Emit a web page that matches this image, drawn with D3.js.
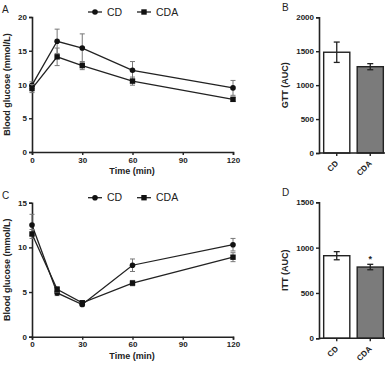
<!DOCTYPE html>
<html>
<head>
<meta charset="utf-8">
<script src="https://cdn.jsdelivr.net/npm/d3@7"></script>
<style>
  body { margin: 0; background: #fff; }
  text { font-family: "Liberation Sans", Arial, sans-serif; fill: #222; }
</style>
</head>
<body>
<div id="svg"></div>
<script>
// time points (min)
const times = [0, 15, 30, 60, 120]

// GTT curves (mean, SEM)
const gttCD = [9.9, 16.4, 15.4, 12.1, 9.5]
const gttCDerr = [0.5, 1.8, 2.1, 1.3, 1.1]
const gttCDA = [9.4, 14.1, 12.8, 10.5, 7.8]
const gttCDAerr = [0.6, 1.3, 0.6, 0.6, 0.3]

// ITT curves
const ittCD = [12.5, 4.9, 3.6, 8.0, 10.3]
const ittCDerr = [1.2, 0.3, 0.2, 0.7, 0.7]
const ittCDA = [11.5, 5.3, 3.8, 6.0, 8.9]
const ittCDAerr = [0.5, 0.3, 0.2, 0.3, 0.5]

// AUC bars
const groups = ["CD", "CDA"]
const gttAUC = [1485, 1272]
const gttAUCerr = [150, 45]
const ittAUC = [911, 786]
const ittAUCerr = [45, 30]

const width = 392
const height = 368
const ink = "#222"

const svg = d3.select("#svg")
    .append("svg")
    .attr("width", width)
    .attr("height", height)

function lineChart(o) {
    const g = svg.append("g")
    const x = d3.scaleLinear().domain([0, 120]).range([32, 233])
    const y = d3.scaleLinear().domain([0, o.ymax]).range([o.y0, o.y1])

    const xAxis = g.append("g")
        .attr("transform", `translate(0,${o.y0})`)
        .call(d3.axisBottom(x).tickValues([0, 30, 60, 90, 120]).tickSize(3).tickPadding(2))
    const yAxis = g.append("g")
        .attr("transform", `translate(32,0)`)
        .call(d3.axisLeft(y).ticks(o.ymax / 5).tickSize(3).tickPadding(2))
    ;[xAxis, yAxis].forEach(a => {
        a.select(".domain").attr("stroke", ink).attr("stroke-width", 1.6)
        a.selectAll(".tick line").attr("stroke", ink).attr("stroke-width", 1.4)
        a.selectAll(".tick text").attr("font-size", 8).attr("font-weight", "bold")
            .style("font-family", "Liberation Sans, Arial").attr("fill", ink)
    })

    g.append("text")
        .attr("x", 132).attr("y", o.y0 + 22)
        .attr("text-anchor", "middle").attr("font-size", 9).attr("font-weight", "bold")
        .text("Time (min)")
    g.append("text")
        .attr("transform", `translate(10,${(o.y0 + o.y1) / 2}) rotate(-90)`)
        .attr("text-anchor", "middle").attr("font-size", 9).attr("font-weight", "bold")
        .text("Blood glucose (mmol/L)")
    g.append("text")
        .attr("x", 2).attr("y", o.y1 - 4)
        .attr("font-size", 10)
        .text(o.letter)

    const line = d3.line().x((d, i) => x(times[i])).y(d => y(d))
    const series = [
        { vals: o.cd, err: o.cdErr, shape: "circle" },
        { vals: o.cda, err: o.cdaErr, shape: "square" }
    ]
    series.forEach(s => {
        // error bars
        const eb = g.append("g").attr("stroke", "#777").attr("stroke-width", 1)
        s.vals.forEach((v, i) => {
            const cx = x(times[i])
            eb.append("line").attr("x1", cx).attr("x2", cx).attr("y1", y(v - s.err[i])).attr("y2", y(v + s.err[i]))
            eb.append("line").attr("x1", cx - 2.5).attr("x2", cx + 2.5).attr("y1", y(v + s.err[i])).attr("y2", y(v + s.err[i]))
            eb.append("line").attr("x1", cx - 2.5).attr("x2", cx + 2.5).attr("y1", y(v - s.err[i])).attr("y2", y(v - s.err[i]))
        })
        g.append("path")
            .datum(s.vals)
            .attr("d", line)
            .attr("fill", "none")
            .attr("stroke", ink)
            .attr("stroke-width", 1.3)
        s.vals.forEach((v, i) => {
            if (s.shape == "circle") {
                g.append("circle").attr("cx", x(times[i])).attr("cy", y(v)).attr("r", 2.8).attr("fill", "#111")
            } else {
                g.append("rect").attr("x", x(times[i]) - 2.7).attr("y", y(v) - 2.7)
                    .attr("width", 5.4).attr("height", 5.4).attr("fill", "#111")
            }
        })
    })

    // legend
    const ly = o.y1 - 5
    const lg = g.append("g")
    lg.append("line").attr("x1", 88).attr("x2", 102).attr("y1", ly).attr("y2", ly).attr("stroke", ink).attr("stroke-width", 1.3)
    lg.append("circle").attr("cx", 95).attr("cy", ly).attr("r", 2.8).attr("fill", "#111")
    lg.append("text").attr("x", 107).attr("y", ly + 3.7).attr("font-size", 10.5).text("CD")
    lg.append("line").attr("x1", 137).attr("x2", 151).attr("y1", ly).attr("y2", ly).attr("stroke", ink).attr("stroke-width", 1.3)
    lg.append("rect").attr("x", 141.3).attr("y", ly - 2.7).attr("width", 5.4).attr("height", 5.4).attr("fill", "#111")
    lg.append("text").attr("x", 156).attr("y", ly + 3.7).attr("font-size", 10.5).text("CDA")
}

function barChart(o) {
    const g = svg.append("g")
    const x = d3.scaleBand().domain(groups).range([322, 385]).paddingInner(0.22).paddingOuter(0.05)
    const y = d3.scaleLinear().domain([0, o.ymax]).range([o.y0, o.y1])

    const fills = ["#fff", "#7b7b7b"]
    g.selectAll("rect.bar")
        .data(o.vals)
        .join("rect")
        .attr("class", "bar")
        .attr("x", (d, i) => x(groups[i]))
        .attr("width", x.bandwidth())
        .attr("y", d => y(d))
        .attr("height", d => o.y0 - y(d))
        .attr("fill", (d, i) => fills[i])
        .attr("stroke", ink)
        .attr("stroke-width", 1.4)

    o.vals.forEach((v, i) => {
        const cx = x(groups[i]) + x.bandwidth() / 2
        const e = o.err[i]
        const eb = g.append("g").attr("stroke", ink).attr("stroke-width", 1.3)
        eb.append("line").attr("x1", cx).attr("x2", cx).attr("y1", y(v - e)).attr("y2", y(v + e))
        eb.append("line").attr("x1", cx - 3).attr("x2", cx + 3).attr("y1", y(v + e)).attr("y2", y(v + e))
        eb.append("line").attr("x1", cx - 3).attr("x2", cx + 3).attr("y1", y(v - e)).attr("y2", y(v - e))
    })

    const yAxis = g.append("g")
        .attr("transform", `translate(319,0)`)
        .call(d3.axisLeft(y).tickValues(o.ticks).tickFormat(d3.format("d")).tickSize(3).tickPadding(2))
    const xAxis = g.append("g")
        .attr("transform", `translate(0,${o.y0})`)
        .call(d3.axisBottom(x).tickSize(3).tickSizeOuter(0))
    xAxis.select(".domain").attr("d", `M319,0H385`)
    ;[xAxis, yAxis].forEach(a => {
        a.select(".domain").attr("stroke", ink).attr("stroke-width", 1.6)
        a.selectAll(".tick line").attr("stroke", ink).attr("stroke-width", 1.4)
        a.selectAll(".tick text").attr("font-size", 8).attr("font-weight", "bold")
            .style("font-family", "Liberation Sans, Arial").attr("fill", ink)
    })
    xAxis.selectAll(".tick text")
        .attr("text-anchor", "end")
        .attr("y", 0)
        .attr("dy", 0)
        .attr("transform", "translate(2,11) rotate(-45)")

    g.append("text")
        .attr("transform", `translate(288,${(o.y0 + o.y1) / 2}) rotate(-90)`)
        .attr("text-anchor", "middle").attr("font-size", 9).attr("font-weight", "bold")
        .text(o.label)
    g.append("text")
        .attr("x", 282).attr("y", o.y1 - 6)
        .attr("font-size", 10)
        .text(o.letter)
    if (o.star) {
        const cx = x("CDA") + x.bandwidth() / 2
        g.append("text").attr("x", cx).attr("y", y(o.vals[1] + o.err[1]) - 2)
            .attr("text-anchor", "middle").attr("font-size", 9).attr("font-weight", "bold")
            .text("*")
    }
}

lineChart({ letter: "A", ymax: 20, y0: 152, y1: 17, cd: gttCD, cdErr: gttCDerr, cda: gttCDA, cdaErr: gttCDAerr })
lineChart({ letter: "C", ymax: 15, y0: 336.7, y1: 202.7, cd: ittCD, cdErr: ittCDerr, cda: ittCDA, cdaErr: ittCDAerr })
barChart({ letter: "B", label: "GTT (AUC)", ymax: 2000, ticks: [0, 500, 1000, 1500, 2000], y0: 153, y1: 17.3, vals: gttAUC, err: gttAUCerr })
barChart({ letter: "D", label: "ITT (AUC)", ymax: 1500, ticks: [0, 500, 1000, 1500], y0: 338.3, y1: 202.3, vals: ittAUC, err: ittAUCerr, star: true })
</script>
</body>
</html>
